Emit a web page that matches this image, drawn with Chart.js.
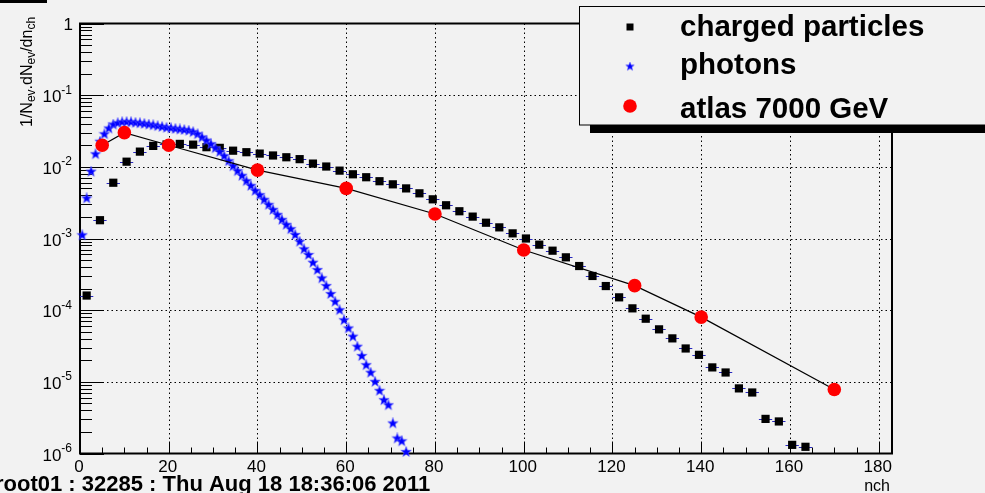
<!DOCTYPE html>
<html>
<head>
<meta charset="utf-8">
<title>nch distribution</title>
<script src="https://cdn.jsdelivr.net/npm/chart.js@4.4.1/dist/chart.umd.min.js"></script>
<style>
  html, body { margin: 0; padding: 0; background: #f2f2f2; }
  #wrap { width: 985px; height: 493px; position: relative; }
</style>
</head>
<body>
<div id="wrap"><canvas id="c"></canvas></div>
<script>
// charged particles: bin centres (nch) and 1/Nev dNev/dnch
const chargedX = [1.5, 4.5, 7.5, 10.5, 13.5, 16.5, 19.5, 22.5, 25.5, 28.5, 31.5, 34.5, 37.5, 40.5,
  43.5, 46.5, 49.5, 52.5, 55.5, 58.5, 61.5, 64.5, 67.5, 70.5, 73.5, 76.5, 79.5, 82.5, 85.5, 88.5,
  91.5, 94.5, 97.5, 100.5, 103.5, 106.5, 109.5, 112.5, 115.5, 118.5, 121.5, 124.5, 127.5, 130.5,
  133.5, 136.5, 139.5, 142.5, 145.5, 148.5, 151.5, 154.5, 157.5, 160.5, 163.5];
const chargedY = [1.6e-4, 1.8e-3, 6.0e-3, 1.18e-2, 1.63e-2, 1.96e-2, 2.05e-2, 2.09e-2, 2.04e-2,
  1.88e-2, 1.84e-2, 1.68e-2, 1.60e-2, 1.53e-2, 1.44e-2, 1.36e-2, 1.28e-2, 1.11e-2, 1.01e-2,
  8.85e-3, 7.87e-3, 7.16e-3, 6.3e-3, 5.7e-3, 5.0e-3, 4.27e-3, 3.52e-3, 2.91e-3, 2.4e-3, 2.02e-3,
  1.66e-3, 1.43e-3, 1.18e-3, 1.0e-3, 8.2e-4, 6.76e-4, 5.46e-4, 4.13e-4, 3.0e-4, 2.17e-4, 1.51e-4,
  1.06e-4, 7.6e-5, 5.4e-5, 4.04e-5, 2.92e-5, 2.38e-5, 1.59e-5, 1.35e-5, 8.1e-6, 7.1e-6, 3.04e-6,
  2.8e-6, 1.32e-6, 1.24e-6];

// photons
const photonX = [0.5, 1.5, 2.5, 3.5, 4.5, 5.5, 6.5, 7.5, 8.5, 9.5, 10.5, 11.5, 12.5, 13.5, 14.5,
  15.5, 16.5, 17.5, 18.5, 19.5, 20.5, 21.5, 22.5, 23.5, 24.5, 25.5, 26.5, 27.5, 28.5, 29.5, 30.5,
  31.5, 32.5, 33.5, 34.5, 35.5, 36.5, 37.5, 38.5, 39.5, 40.5, 41.5, 42.5, 43.5, 44.5, 45.5, 46.5,
  47.5, 48.5, 49.5, 50.5, 51.5, 52.5, 53.5, 54.5, 55.5, 56.5, 57.5, 58.5, 59.5, 60.5, 61.5, 62.5,
  63.5, 64.5, 65.5, 66.5, 67.5, 68.5, 69.5, 70.5, 71.5, 72.5, 73.5];
const photonY = [1.11e-3, 3.63e-3, 8.57e-3, 1.50e-2, 2.24e-2, 2.85e-2, 3.43e-2, 3.89e-2, 4.07e-2,
  4.19e-2, 4.22e-2, 4.19e-2, 4.12e-2, 4.06e-2, 3.98e-2, 3.89e-2, 3.80e-2, 3.70e-2, 3.61e-2,
  3.51e-2, 3.45e-2, 3.39e-2, 3.33e-2, 3.27e-2, 3.20e-2, 3.05e-2, 2.85e-2, 2.57e-2, 2.32e-2,
  2.07e-2, 1.82e-2, 1.62e-2, 1.41e-2, 1.20e-2, 1.02e-2, 8.71e-3, 7.50e-3, 6.31e-3, 5.43e-3,
  4.62e-3, 4.03e-3, 3.47e-3, 2.95e-3, 2.51e-3, 2.14e-3, 1.82e-3, 1.55e-3, 1.35e-3, 1.12e-3,
  9.02e-4, 7.08e-4, 5.89e-4, 4.59e-4, 3.63e-4, 2.78e-4, 2.17e-4, 1.68e-4, 1.31e-4, 1.0e-4,
  7.24e-5, 5.57e-5, 4.27e-5, 3.09e-5, 2.29e-5, 1.71e-5, 1.34e-5, 1.0e-5, 7.48e-6, 5.55e-6,
  4.72e-6, 2.63e-6, 1.62e-6, 1.48e-6, 1.05e-6];

// atlas 7000 GeV
const atlasX = [5, 10, 20, 40, 60, 80, 100, 125, 140, 170];
const atlasY = [2.0e-2, 3.0e-2, 2.0e-2, 9.0e-3, 5.0e-3, 2.2e-3, 6.9e-4, 2.2e-4, 8.0e-5, 7.8e-6];

// axes
const xMin = 0, xMax = 183;
const xTicks = [0, 20, 40, 60, 80, 100, 120, 140, 160, 180];
const xMinorStep = 5;
const yTicks = [1, 1e-1, 1e-2, 1e-3, 1e-4, 1e-5, 1e-6];
const yTickLabels = ['1', '10^-1', '10^-2', '10^-3', '10^-4', '10^-5', '10^-6'];
const yMinorSteps = [2, 3, 4, 5, 6, 7, 8, 9];
const chargedHalfWidth = 1.5;

const legendLabels = ['charged particles', 'photons', 'atlas 7000 GeV'];
const stampText = 'root01 : 32285 : Thu Aug 18 18:36:06 2011';
const FONT = '"Liberation Sans", Arial, Helvetica, sans-serif';

function toPoints(xs, ys) {
  return xs.map((x, i) => ({ x: x, y: ys[i] }));
}

// filled 5-point star marker
function makeStar(size, color) {
  const cv = document.createElement('canvas');
  cv.width = size; cv.height = size;
  const g = cv.getContext('2d');
  const c = size / 2, R = size / 2 - 0.5, r = R * 0.42;
  g.beginPath();
  for (let i = 0; i < 10; i++) {
    const rad = i % 2 === 0 ? R : r;
    const ang = -Math.PI / 2 + i * Math.PI / 5;
    const px = c + rad * Math.cos(ang), py = c + rad * Math.sin(ang);
    if (i === 0) g.moveTo(px, py); else g.lineTo(px, py);
  }
  g.closePath();
  g.fillStyle = color;
  g.fill();
  g.strokeStyle = 'rgba(90,90,255,0.7)';
  g.lineWidth = 0.8;
  g.stroke();
  return cv;
}
const starMarker = makeStar(12, '#0000ff');
const starLegend = makeStar(10, '#0000ff');

const rootStyle = {
  id: 'rootStyle',
  beforeDraw(chart) {
    const ctx = chart.ctx;
    ctx.save();
    ctx.fillStyle = '#f2f2f2';
    ctx.fillRect(0, 0, chart.width, chart.height);
    ctx.restore();
  },
  beforeDatasetsDraw(chart) {
    const ctx = chart.ctx, a = chart.chartArea;
    const xs = chart.scales.x, ys = chart.scales.y;
    ctx.save();

    // dotted grid
    ctx.strokeStyle = '#000';
    ctx.lineWidth = 1;
    ctx.setLineDash([1.5, 3]);
    xTicks.forEach(v => {
      if (v <= xMin) return;
      const px = Math.round(xs.getPixelForValue(v)) + 0.5;
      ctx.beginPath(); ctx.moveTo(px, a.top); ctx.lineTo(px, a.bottom); ctx.stroke();
    });
    yTicks.forEach(v => {
      if (v >= 1 || v <= 1e-6) return;
      const py = Math.round(ys.getPixelForValue(v)) + 0.5;
      ctx.beginPath(); ctx.moveTo(a.left, py); ctx.lineTo(a.right, py); ctx.stroke();
    });
    ctx.setLineDash([]);

    // frame
    ctx.lineWidth = 2;
    ctx.strokeRect(a.left, a.top, a.right - a.left, a.bottom - a.top);

    // x ticks
    ctx.lineWidth = 1;
    for (let v = xMin; v <= xMax; v += xMinorStep) {
      const px = Math.round(xs.getPixelForValue(v)) + 0.5;
      const len = v % 20 === 0 ? 12 : 6;
      ctx.beginPath(); ctx.moveTo(px, a.bottom); ctx.lineTo(px, a.bottom - len); ctx.stroke();
    }
    // y ticks
    yTicks.forEach(d => {
      const py = Math.round(ys.getPixelForValue(d)) + 0.5;
      ctx.beginPath(); ctx.moveTo(a.left, py); ctx.lineTo(a.left + 24, py); ctx.stroke();
      if (d >= 1) return;
      yMinorSteps.forEach(m => {
        const pm = Math.round(ys.getPixelForValue(m * d)) + 0.5;
        ctx.beginPath(); ctx.moveTo(a.left, pm); ctx.lineTo(a.left + 12, pm); ctx.stroke();
      });
    });

    // horizontal bin-width bars on charged particles
    ctx.strokeStyle = 'rgb(40,40,190)';
    chargedX.forEach((x, i) => {
      const py = Math.round(ys.getPixelForValue(chargedY[i])) + 0.5;
      ctx.beginPath();
      ctx.moveTo(xs.getPixelForValue(x - chargedHalfWidth), py);
      ctx.lineTo(xs.getPixelForValue(x + chargedHalfWidth), py);
      ctx.stroke();
    });
    ctx.restore();
  },
  afterDraw(chart) {
    const ctx = chart.ctx;
    const xs = chart.scales.x, ys = chart.scales.y;
    ctx.save();
    ctx.fillStyle = '#000';

    // x tick labels
    ctx.font = '17px ' + FONT;
    ctx.textAlign = 'center';
    ctx.textBaseline = 'alphabetic';
    xTicks.forEach(v => ctx.fillText(String(v), xs.getPixelForValue(v) - 1, 472));

    // y tick labels with superscripts
    yTicks.forEach((v, i) => {
      const py = ys.getPixelForValue(v);
      const parts = yTickLabels[i].split('^');
      ctx.textAlign = 'left';
      if (parts.length === 1) {
        ctx.font = '17px ' + FONT;
        const w = ctx.measureText(parts[0]).width;
        ctx.fillText(parts[0], 73 - w, py + 6.5);
        return;
      }
      ctx.font = '12px ' + FONT;
      const ws = ctx.measureText(parts[1]).width;
      ctx.font = '17px ' + FONT;
      const wb = ctx.measureText(parts[0]).width;
      const x0 = 72 - ws - wb;
      ctx.fillText(parts[0], x0, py + 7);
      ctx.font = '12px ' + FONT;
      ctx.fillText(parts[1], x0 + wb, py - 1.5);
    });

    // x axis title
    ctx.font = '16px ' + FONT;
    ctx.textAlign = 'right';
    ctx.fillText('nch', 890, 491);

    // y axis title, rotated, with subscripts
    const segs = [['1/N', false], ['ev', true], ['.dN', false], ['ev', true], ['/dn', false], ['ch', true]];
    ctx.save();
    ctx.translate(32, 127);
    ctx.rotate(-Math.PI / 2);
    ctx.textAlign = 'left';
    let tx = 0;
    segs.forEach(([t, sub]) => {
      ctx.font = (sub ? '12px ' : '16px ') + FONT;
      ctx.fillText(t, tx, sub ? 2.5 : 0);
      tx += ctx.measureText(t).width;
    });
    ctx.restore();

    // stamp at bottom
    ctx.font = 'bold 22px ' + FONT;
    ctx.textAlign = 'left';
    ctx.fillText(stampText, -5, 491);

    // small black box top left
    ctx.fillRect(0, 0, 47, 3);

    // legend with shadow
    ctx.fillStyle = '#000';
    ctx.fillRect(590, 125, chart.width - 590, 8);
    ctx.fillStyle = '#f2f2f2';
    ctx.fillRect(579.5, 6.5, chart.width, 118.5);
    ctx.strokeStyle = '#000';
    ctx.lineWidth = 1;
    ctx.strokeRect(579.5, 6.5, chart.width, 118.5);

    ctx.fillStyle = '#000';
    ctx.fillRect(626.5, 23.5, 7, 7);
    ctx.drawImage(starLegend, 630 - 5, 66.5 - 5);
    ctx.fillStyle = '#ff0000';
    ctx.beginPath(); ctx.arc(630, 106, 6.8, 0, Math.PI * 2); ctx.fill();

    ctx.fillStyle = '#000';
    ctx.font = 'bold 29.5px ' + FONT;
    ctx.textAlign = 'left';
    ctx.fillText(legendLabels[0], 680, 36);
    ctx.fillText(legendLabels[1], 680, 73.5);
    ctx.fillText(legendLabels[2], 680, 118);
    ctx.restore();
  }
};

new Chart(document.getElementById('c'), {
  type: 'scatter',
  data: {
    datasets: [
      {
        label: legendLabels[2],
        data: toPoints(atlasX, atlasY),
        showLine: true,
        borderColor: '#000',
        borderWidth: 1.2,
        pointStyle: 'circle',
        pointRadius: 6.8,
        pointBorderWidth: 0,
        pointBackgroundColor: '#ff0000',
        clip: false,
        order: 1
      },
      {
        label: legendLabels[1],
        data: toPoints(photonX, photonY),
        pointStyle: starMarker,
        pointRadius: 6,
        clip: false,
        order: 2
      },
      {
        label: legendLabels[0],
        data: toPoints(chargedX, chargedY),
        pointStyle: 'rect',
        pointRadius: 5.8,
        pointBorderWidth: 0,
        pointBackgroundColor: '#000',
        clip: false,
        order: 3
      }
    ]
  },
  options: {
    responsive: true,
    maintainAspectRatio: false,
    animation: false,
    layout: { padding: { left: 80, right: 93, top: 23.5, bottom: 39.5 } },
    scales: {
      x: { type: 'linear', min: xMin, max: xMax, display: false },
      y: { type: 'logarithmic', min: 1e-6, max: 1, display: false }
    },
    plugins: {
      legend: { display: false },
      tooltip: { enabled: false }
    }
  },
  plugins: [rootStyle]
});
</script>
</body>
</html>
